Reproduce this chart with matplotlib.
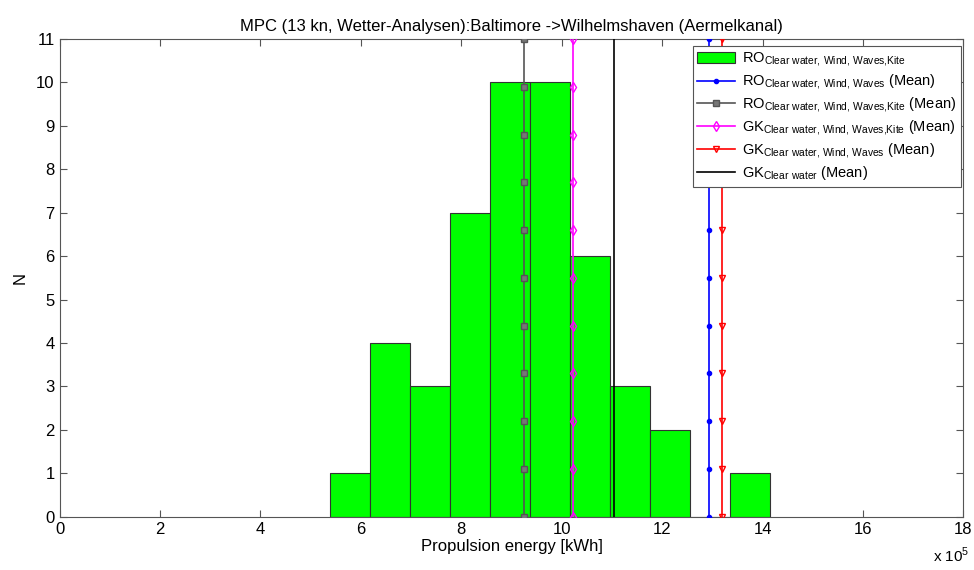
import numpy as np
import matplotlib
matplotlib.use("Agg")
import matplotlib.pyplot as plt

plt.rcParams['font.family'] = ['Liberation Sans', 'DejaVu Sans']
plt.rcParams['mathtext.fontset'] = 'custom'
plt.rcParams['mathtext.rm'] = 'Liberation Sans'

# histogram (x in units of 1e5 kWh)
bin_left = 5.38
bin_width = 0.797
counts = [1, 4, 3, 7, 10, 10, 6, 3, 2, 0, 1]

# mean lines (x in units of 1e5 kWh)
mean_ro_www = 12.94
mean_ro_kite = 9.25
mean_gk_kite = 10.22
mean_gk_www = 13.19
mean_gk_clear = 11.05

sub_kite = r'$_{\mathrm{Clear\ water{,}\ Wind{,}\ Waves{,}Kite}}$'
sub_www = r'$_{\mathrm{Clear\ water{,}\ Wind{,}\ Waves}}$'
sub_clear = r'$_{\mathrm{Clear\ water}}$'

fig = plt.figure(figsize=(9.74, 5.70), dpi=100)
ax = fig.add_axes([0.0612, 0.0935, 0.928, 0.838])

edges = bin_left + bin_width * np.arange(len(counts) + 1)
h_bar = ax.bar(edges[:-1], counts, width=bin_width, align='edge', color='#00ff00',
               edgecolor='#333333', linewidth=0.8, zorder=2)

ymark = np.linspace(0, 11, 11)
h1, = ax.plot(np.full(11, mean_ro_www), ymark, color='blue', marker='.', ms=6,
              lw=1.2, zorder=3)
h2, = ax.plot(np.full(11, mean_ro_kite), ymark, color='#555555', marker='s', ms=4,
              mfc='#777777', lw=1.2, zorder=3)
h3, = ax.plot(np.full(11, mean_gk_kite), ymark, color='magenta', marker='d', ms=5,
              mfc='none', lw=1.2, zorder=3)
h4, = ax.plot(np.full(11, mean_gk_www), ymark, color='red', marker='v', ms=5,
              mfc='none', lw=1.2, zorder=3)
h5, = ax.plot([mean_gk_clear, mean_gk_clear], [0, 11], color='black', lw=1.2,
              zorder=3)

ax.set_xlim(0, 18)
ax.set_ylim(0, 11)
ax.set_xticks(np.arange(0, 19, 2))
ax.set_yticks(np.arange(0, 12, 1))
ax.tick_params(direction='in', top=True, right=True, labelsize=12, length=5,
               color='#555555')
for s in ax.spines.values():
    s.set_color('#555555')

ax.set_xlabel('Propulsion energy [kWh]', fontsize=12, labelpad=2)
ax.set_ylabel('N', fontsize=12, labelpad=6)
ax.set_title('MPC (13 kn, Wetter-Analysen):Baltimore ->Wilhelmshaven (Aermelkanal)',
             fontsize=12, pad=6)
fig.text(0.995, 0.008, r'x 10$^{5}$', fontsize=11, ha='right', va='bottom')

labels = ['RO' + sub_kite,
          'RO' + sub_www + ' (Mean)',
          'RO' + sub_kite + ' (Mean)',
          'GK' + sub_kite + ' (Mean)',
          'GK' + sub_www + ' (Mean)',
          'GK' + sub_clear + ' (Mean)']
leg = ax.legend([h_bar, h1, h2, h3, h4, h5], labels, loc='upper right',
                bbox_to_anchor=(0.997, 0.985),
                fontsize=10.5, frameon=True, fancybox=False, framealpha=1,
                edgecolor='#555555', borderaxespad=0, handlelength=2.6,
                labelspacing=0.25, borderpad=0.3, handletextpad=0.5)
leg.get_frame().set_linewidth(0.8)

fig.savefig('out.png', dpi=100)
